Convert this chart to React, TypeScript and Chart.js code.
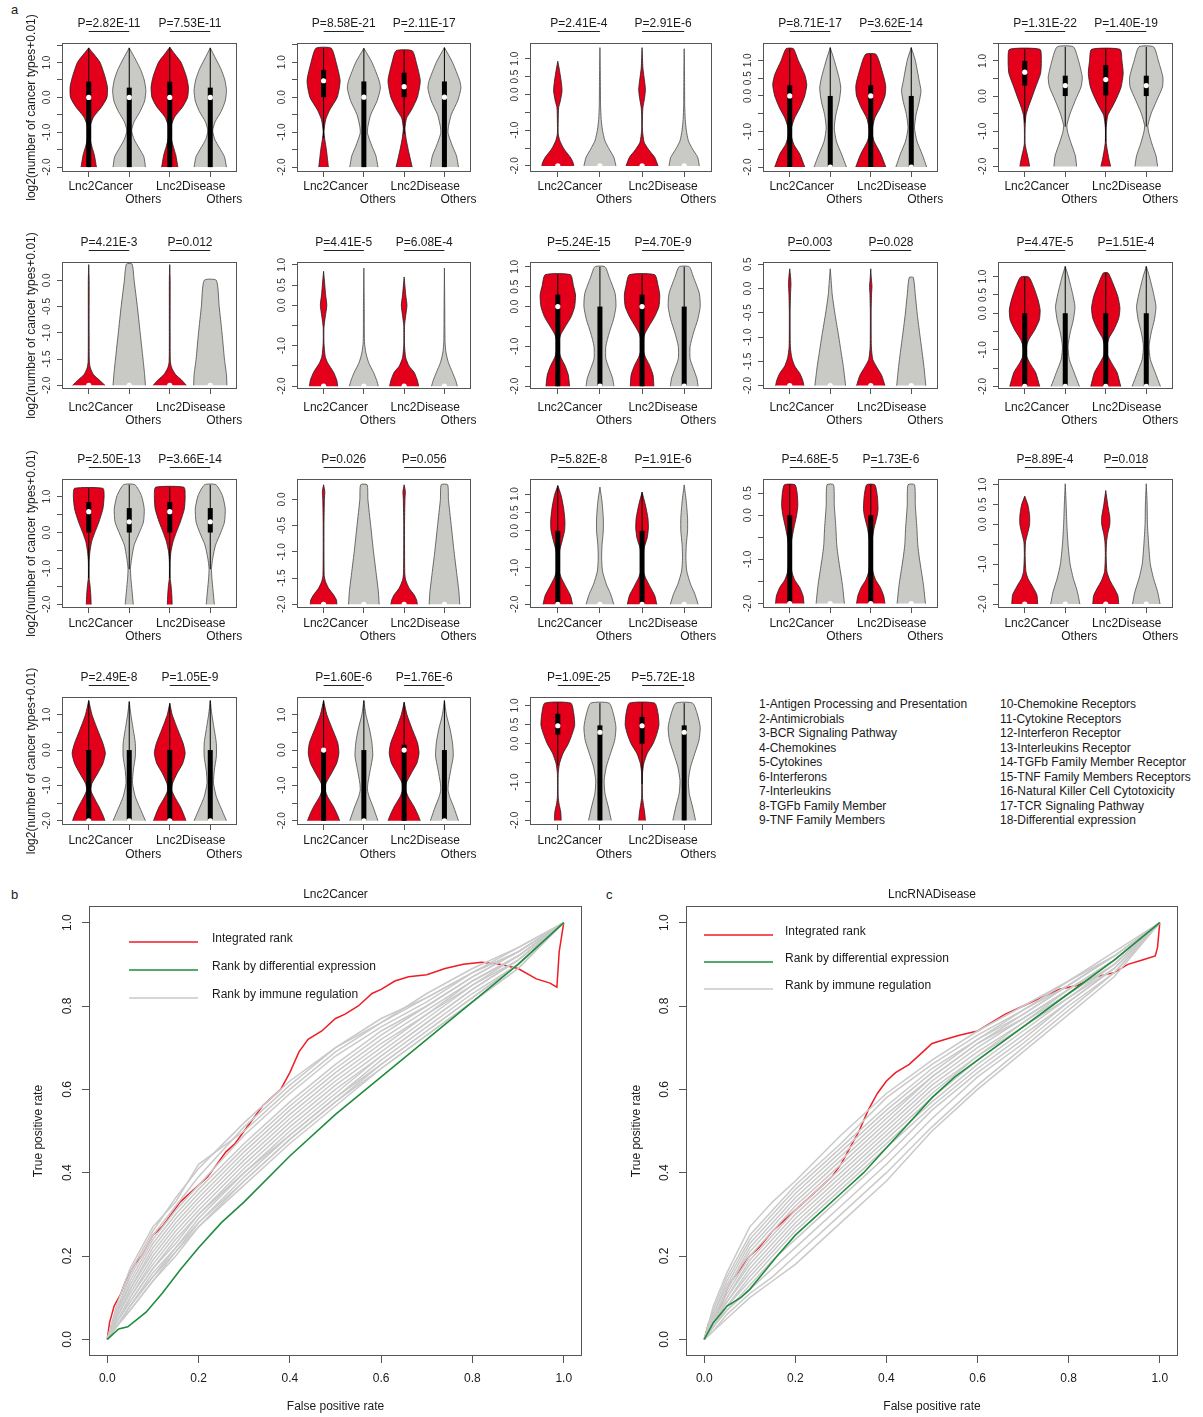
import React, { useEffect, useRef } from 'react';
import Chart from 'chart.js/auto';

const FONT = '"Liberation Sans", Arial, Helvetica, sans-serif';
const RED = '#e4001b';
const GREY_FILL = '#c9c9c5';
const AXIS = '#555555';
const TEXT = '#1a1a1a';
const ROC_RED = '#ee1c25';
const ROC_GREEN = '#1e8c3c';
const ROC_GREY = '#c9c9c9';

// ---------------- panel a : violin data ----------------
const groupLabels = ['Lnc2Cancer', 'Others', 'Lnc2Disease', 'Others'];

const pValues = [
  ['P=2.82E-11', 'P=7.53E-11'], ['P=8.58E-21', 'P=2.11E-17'], ['P=2.41E-4', 'P=2.91E-6'], ['P=8.71E-17', 'P=3.62E-14'], ['P=1.31E-22', 'P=1.40E-19'],
  ['P=4.21E-3', 'P=0.012'], ['P=4.41E-5', 'P=6.08E-4'], ['P=5.24E-15', 'P=4.70E-9'], ['P=0.003', 'P=0.028'], ['P=4.47E-5', 'P=1.51E-4'],
  ['P=2.50E-13', 'P=3.66E-14'], ['P=0.026', 'P=0.056'], ['P=5.82E-8', 'P=1.91E-6'], ['P=4.68E-5', 'P=1.73E-6'], ['P=8.89E-4', 'P=0.018'],
  ['P=2.49E-8', 'P=1.05E-9'], ['P=1.60E-6', 'P=1.76E-6'], ['P=1.09E-25', 'P=5.72E-18'],
];

const yRanges = [
  [-2.14, 1.56], [-2.14, 1.55], [-2.17, 1.44], [-2.14, 1.49], [-2.16, 1.51],
  [-2.07, 0.35], [-2.07, 1.07], [-2.07, 1.12], [-2.07, 0.55], [-2.07, 1.4],
  [-2.1, 1.49], [-2.07, 0.39], [-2.1, 1.41], [-2.1, 0.82], [-2.1, 1.14],
  [-2.12, 1.5], [-2.12, 1.5], [-2.12, 1.22],
];

const T15 = [-2, -1.5, -1, -0.5, 0, 0.5, 1, 1.5];
const T10 = [-2, -1.5, -1, -0.5, 0, 0.5, 1];
const T05 = [-2, -1.5, -1, -0.5, 0, 0.5];
const T00 = [-2, -1.5, -1, -0.5, 0];
const yTicks = [T15, T15, T10, T10, T15, T00, T10, T10, T05, T10, T10, T00, T10, T05, T10, T10, T10, T10];

const L_A = [-2, -1, 0, 1];
const L_B = [-2, -1, 0, 0.5, 1];
const yLabeled = [L_A, L_A, L_B, L_B, L_A, T00, L_B, L_B, T05, L_B, L_A, T00, L_B, [-2, -1, 0, 0.5], L_B, L_A, L_A, L_B];

// each violin: [value, half-width] pairs from bottom to top
const shapes01 = [
  [[-2, 0.19], [-1.66, 0.14], [-1.42, 0.08], [-1.23, 0.04], [-1.0, 0.02], [-0.8, 0.04], [-0.56, 0.12], [-0.27, 0.32], [0, 0.45], [0.3, 0.46], [0.6, 0.4], [1.0, 0.28], [1.25, 0.12], [1.42, 0]],
  [[-2, 0.4], [-1.7, 0.36], [-1.45, 0.24], [-1.2, 0.12], [-0.95, 0.06], [-0.7, 0.12], [-0.4, 0.27], [-0.1, 0.38], [0.2, 0.41], [0.5, 0.37], [0.8, 0.28], [1.1, 0.15], [1.42, 0]],
  [[-2, 0.2], [-1.66, 0.15], [-1.42, 0.09], [-1.2, 0.04], [-1.0, 0.02], [-0.8, 0.04], [-0.56, 0.12], [-0.27, 0.32], [0, 0.44], [0.3, 0.46], [0.6, 0.41], [1.0, 0.28], [1.25, 0.12], [1.44, 0]],
  [[-2, 0.4], [-1.7, 0.35], [-1.45, 0.23], [-1.2, 0.11], [-0.95, 0.06], [-0.7, 0.12], [-0.4, 0.27], [-0.1, 0.37], [0.2, 0.4], [0.5, 0.36], [0.8, 0.27], [1.1, 0.14], [1.42, 0]],
];
const shapes02 = [
  [[-2, 0.12], [-1.5, 0.07], [-1.21, 0.03], [-0.98, 0.01], [-0.65, 0.05], [-0.37, 0.15], [0, 0.34], [0.47, 0.41], [1.0, 0.31], [1.4, 0.19]],
  [[-2, 0.35], [-1.68, 0.3], [-1.4, 0.2], [-1.03, 0.09], [-0.84, 0.1], [-0.5, 0.17], [-0.1, 0.33], [0.26, 0.41], [0.47, 0.38], [1.0, 0.2], [1.4, 0]],
  [[-2, 0.2], [-1.6, 0.12], [-1.2, 0.05], [-0.9, 0.02], [-0.6, 0.06], [-0.37, 0.18], [0, 0.33], [0.47, 0.4], [1.0, 0.3], [1.33, 0.2]],
  [[-2, 0.35], [-1.68, 0.3], [-1.4, 0.2], [-1.03, 0.09], [-0.84, 0.1], [-0.5, 0.17], [-0.1, 0.33], [0.26, 0.41], [0.47, 0.38], [1.0, 0.2], [1.42, 0]],
];
const shapes03 = [
  [[-2, 0.38], [-1.9, 0.36], [-1.76, 0.3], [-1.53, 0.15], [-1.3, 0.05], [-1.1, 0.01], [-0.74, 0.01], [-0.37, 0.02], [-0.18, 0.06], [0.1, 0.1], [0.37, 0.08], [0.74, 0.03], [0.93, 0]],
  [[-2, 0.38], [-1.76, 0.33], [-1.53, 0.22], [-1.3, 0.12], [-1.0, 0.06], [-0.7, 0.03], [-0.3, 0.015], [0.5, 0.01], [1.31, 0]],
  [[-2, 0.38], [-1.76, 0.3], [-1.55, 0.16], [-1.34, 0.05], [-1.0, 0.01], [-0.6, 0.01], [-0.37, 0.02], [-0.09, 0.06], [0.14, 0.08], [0.37, 0.06], [0.74, 0.02], [1.31, 0]],
  [[-2, 0.36], [-1.76, 0.32], [-1.53, 0.2], [-1.3, 0.1], [-1.0, 0.05], [-0.7, 0.025], [-0.3, 0.012], [0.5, 0.008], [1.28, 0]],
];
const shapes04 = [
  [[-2, 0.37], [-1.64, 0.25], [-1.36, 0.1], [-1.08, 0.03], [-0.9, 0.04], [-0.62, 0.12], [-0.34, 0.25], [0, 0.37], [0.32, 0.42], [0.6, 0.37], [1.0, 0.21], [1.33, 0.09]],
  [[-2, 0.4], [-1.64, 0.28], [-1.27, 0.15], [-0.9, 0.1], [-0.52, 0.14], [-0.15, 0.22], [0.22, 0.26], [0.5, 0.22], [1.0, 0.1], [1.36, 0]],
  [[-2, 0.37], [-1.64, 0.25], [-1.27, 0.08], [-1.0, 0.03], [-0.62, 0.1], [-0.34, 0.23], [0, 0.35], [0.27, 0.37], [0.5, 0.33], [1.0, 0.2], [1.18, 0.12]],
  [[-2, 0.38], [-1.64, 0.27], [-1.27, 0.14], [-0.9, 0.08], [-0.52, 0.12], [-0.15, 0.2], [0.15, 0.24], [0.4, 0.2], [1.0, 0.1], [1.36, 0]],
];
const shapes05 = [
  [[-2, 0.12], [-1.8, 0.09], [-1.55, 0.04], [-1.36, 0.01], [-0.89, 0.01], [-0.55, 0.03], [-0.31, 0.09], [-0.03, 0.18], [0.26, 0.27], [0.64, 0.39], [1.0, 0.41], [1.33, 0.375]],
  [[-2, 0.28], [-1.7, 0.25], [-1.36, 0.15], [-1.03, 0.06], [-0.84, 0.04], [-0.5, 0.12], [-0.12, 0.25], [0.26, 0.39], [0.54, 0.42], [1.0, 0.33], [1.4, 0.2]],
  [[-2, 0.12], [-1.8, 0.08], [-1.55, 0.04], [-1.3, 0.01], [-0.9, 0.01], [-0.55, 0.05], [-0.31, 0.16], [-0.03, 0.28], [0.26, 0.38], [0.64, 0.43], [1.0, 0.4], [1.33, 0.35]],
  [[-2, 0.28], [-1.7, 0.24], [-1.36, 0.14], [-1.03, 0.06], [-0.84, 0.04], [-0.5, 0.12], [-0.12, 0.26], [0.26, 0.4], [0.54, 0.41], [1.0, 0.3], [1.4, 0.18]],
];
const shapes06 = [
  [[-2, 0.4], [-1.89, 0.25], [-1.8, 0.12], [-1.67, 0.04], [-1.55, 0.015], [-1.0, 0.01], [0, 0.01], [0.3, 0]],
  [[-2, 0.4], [-1.8, 0.38], [-1.5, 0.34], [-1.0, 0.27], [-0.5, 0.2], [0, 0.12], [0.31, 0.07]],
  [[-2, 0.41], [-1.89, 0.28], [-1.8, 0.15], [-1.67, 0.05], [-1.55, 0.015], [-1.0, 0.01], [0, 0.01], [0.3, 0]],
  [[-2, 0.41], [-1.8, 0.4], [-1.5, 0.35], [-1.0, 0.29], [-0.5, 0.22], [0, 0.15]],
];
const shapes07 = [
  [[-2, 0.35], [-1.86, 0.33], [-1.66, 0.25], [-1.42, 0.1], [-1.26, 0.04], [-0.94, 0.01], [-0.54, 0.01], [-0.3, 0.04], [0, 0.08], [0.26, 0.05], [0.5, 0.03], [0.84, 0]],
  [[-2, 0.36], [-1.86, 0.32], [-1.66, 0.24], [-1.42, 0.12], [-1.18, 0.05], [-0.9, 0.015], [0, 0.01], [0.92, 0]],
  [[-2, 0.36], [-1.86, 0.33], [-1.66, 0.25], [-1.5, 0.12], [-1.3, 0.04], [-1.0, 0.01], [-0.5, 0.01], [-0.25, 0.04], [0, 0.07], [0.25, 0.04], [0.7, 0]],
  [[-2, 0.32], [-1.86, 0.28], [-1.66, 0.2], [-1.42, 0.1], [-1.18, 0.04], [-0.9, 0.015], [0, 0.008], [0.92, 0]],
];
const shapes08 = [
  [[-2, 0.28], [-1.72, 0.25], [-1.48, 0.17], [-1.27, 0.07], [-1.07, 0.02], [-0.9, 0.02], [-0.7, 0.07], [-0.5, 0.18], [-0.25, 0.32], [0, 0.4], [0.29, 0.42], [0.53, 0.37], [0.8, 0.3]],
  [[-2, 0.33], [-1.8, 0.3], [-1.56, 0.22], [-1.31, 0.14], [-1.0, 0.14], [-0.66, 0.22], [-0.33, 0.32], [0, 0.38], [0.33, 0.36], [0.74, 0.22], [1.0, 0.12]],
  [[-2, 0.28], [-1.72, 0.26], [-1.48, 0.18], [-1.27, 0.08], [-1.07, 0.02], [-0.9, 0.02], [-0.7, 0.06], [-0.5, 0.16], [-0.25, 0.3], [0, 0.4], [0.29, 0.42], [0.53, 0.38], [0.8, 0.3]],
  [[-2, 0.33], [-1.8, 0.3], [-1.56, 0.22], [-1.31, 0.14], [-1.0, 0.14], [-0.66, 0.22], [-0.33, 0.32], [0, 0.38], [0.33, 0.36], [0.74, 0.22], [1.0, 0.12]],
];
const shapes09 = [
  [[-2, 0.35], [-1.89, 0.32], [-1.75, 0.25], [-1.59, 0.12], [-1.42, 0.05], [-1.2, 0.015], [-0.5, 0.01], [-0.1, 0.02], [0.1, 0.03], [0.25, 0.02], [0.41, 0]],
  [[-2, 0.38], [-1.59, 0.32], [-1.32, 0.27], [-0.94, 0.2], [-0.54, 0.12], [-0.13, 0.05], [0.2, 0.02], [0.41, 0]],
  [[-2, 0.35], [-1.79, 0.27], [-1.62, 0.15], [-1.46, 0.05], [-1.2, 0.015], [-0.5, 0.01], [-0.1, 0.02], [0.05, 0.03], [0.2, 0.015], [0.41, 0]],
  [[-2, 0.36], [-1.59, 0.31], [-1.32, 0.27], [-0.94, 0.21], [-0.54, 0.15], [-0.13, 0.1], [0.23, 0.05]],
];
const shapes10 = [
  [[-2, 0.37], [-1.62, 0.27], [-1.35, 0.12], [-1.13, 0.03], [-0.95, 0.03], [-0.72, 0.1], [-0.45, 0.25], [-0.18, 0.36], [0.09, 0.38], [0.36, 0.33], [0.72, 0.22], [0.99, 0.1]],
  [[-2, 0.35], [-1.62, 0.22], [-1.26, 0.1], [-0.9, 0.07], [-0.54, 0.12], [-0.18, 0.2], [0.18, 0.24], [0.54, 0.18], [0.99, 0.08], [1.28, 0]],
  [[-2, 0.37], [-1.62, 0.28], [-1.35, 0.14], [-1.13, 0.04], [-0.9, 0.03], [-0.68, 0.08], [-0.45, 0.2], [-0.14, 0.32], [0.14, 0.35], [0.45, 0.3], [0.81, 0.18], [1.1, 0.06]],
  [[-2, 0.35], [-1.62, 0.22], [-1.26, 0.1], [-0.9, 0.07], [-0.54, 0.12], [-0.18, 0.2], [0.18, 0.24], [0.54, 0.18], [0.99, 0.08], [1.28, 0]],
];
const shapes11 = [
  [[-2, 0.06], [-1.72, 0.05], [-1.45, 0.03], [-1.27, 0.01], [-0.8, 0.01], [-0.53, 0.03], [-0.26, 0.07], [0, 0.15], [0.29, 0.25], [0.66, 0.35], [1.03, 0.38], [1.23, 0.35]],
  [[-2, 0.1], [-1.63, 0.07], [-1.27, 0.04], [-1.0, 0.03], [-0.72, 0.06], [-0.35, 0.12], [0, 0.25], [0.29, 0.35], [0.66, 0.37], [1.03, 0.3], [1.33, 0.14]],
  [[-2, 0.06], [-1.72, 0.05], [-1.45, 0.03], [-1.27, 0.01], [-0.8, 0.01], [-0.53, 0.03], [-0.26, 0.08], [0, 0.16], [0.29, 0.26], [0.66, 0.36], [1.03, 0.38], [1.26, 0.35]],
  [[-2, 0.1], [-1.63, 0.07], [-1.27, 0.04], [-1.0, 0.03], [-0.72, 0.06], [-0.35, 0.13], [0, 0.26], [0.29, 0.35], [0.66, 0.37], [1.03, 0.3], [1.33, 0.14]],
];
const shapes12 = [
  [[-2, 0.33], [-1.92, 0.32], [-1.82, 0.25], [-1.7, 0.13], [-1.57, 0.05], [-1.45, 0.015], [-0.5, 0.01], [0, 0.02], [0.15, 0.03], [0.28, 0]],
  [[-2, 0.38], [-1.76, 0.36], [-1.5, 0.32], [-1.0, 0.24], [-0.5, 0.17], [0, 0.1], [0.28, 0.08]],
  [[-2, 0.33], [-1.92, 0.31], [-1.82, 0.25], [-1.7, 0.13], [-1.54, 0.04], [-1.4, 0.015], [-0.5, 0.01], [0, 0.02], [0.15, 0.03], [0.28, 0]],
  [[-2, 0.38], [-1.76, 0.36], [-1.5, 0.32], [-1.0, 0.24], [-0.5, 0.17], [0, 0.1], [0.28, 0.08]],
];
const shapes13 = [
  [[-2, 0.35], [-1.76, 0.3], [-1.54, 0.2], [-1.27, 0.08], [-1.09, 0.03], [-0.82, 0.02], [-0.55, 0.04], [-0.29, 0.1], [0, 0.16], [0.25, 0.17], [0.6, 0.14], [0.96, 0.08], [1.23, 0]],
  [[-2, 0.33], [-1.71, 0.25], [-1.45, 0.15], [-1.09, 0.06], [-0.73, 0.04], [-0.38, 0.05], [0, 0.08], [0.34, 0.08], [0.79, 0.05], [1.19, 0]],
  [[-2, 0.35], [-1.76, 0.3], [-1.54, 0.2], [-1.27, 0.08], [-1.09, 0.03], [-0.73, 0.02], [-0.46, 0.05], [-0.2, 0.12], [0.07, 0.15], [0.34, 0.14], [0.7, 0.08], [1.05, 0]],
  [[-2, 0.33], [-1.71, 0.25], [-1.45, 0.15], [-1.09, 0.06], [-0.73, 0.04], [-0.38, 0.05], [0, 0.08], [0.34, 0.08], [0.79, 0.05], [1.25, 0]],
];
const shapes14 = [
  [[-2, 0.35], [-1.83, 0.33], [-1.64, 0.25], [-1.46, 0.12], [-1.27, 0.05], [-0.97, 0.02], [-0.6, 0.04], [-0.3, 0.1], [0, 0.17], [0.22, 0.2], [0.52, 0.18], [0.69, 0.13]],
  [[-2, 0.35], [-1.57, 0.3], [-1.27, 0.25], [-0.97, 0.2], [-0.67, 0.16], [-0.3, 0.14], [0.22, 0.1], [0.69, 0.08]],
  [[-2, 0.35], [-1.83, 0.32], [-1.64, 0.24], [-1.46, 0.12], [-1.27, 0.05], [-0.97, 0.02], [-0.6, 0.03], [-0.3, 0.08], [0, 0.16], [0.15, 0.18], [0.45, 0.16], [0.69, 0.1]],
  [[-2, 0.35], [-1.57, 0.3], [-1.27, 0.25], [-0.97, 0.2], [-0.67, 0.16], [-0.3, 0.14], [0.22, 0.1], [0.69, 0.08]],
];
const shapes15 = [
  [[-2, 0.32], [-1.77, 0.3], [-1.57, 0.2], [-1.36, 0.08], [-1.19, 0.03], [-0.78, 0.01], [-0.44, 0.02], [-0.23, 0.07], [0, 0.12], [0.22, 0.12], [0.48, 0.08], [0.71, 0]],
  [[-2, 0.36], [-1.69, 0.3], [-1.36, 0.2], [-1.0, 0.12], [-0.52, 0.07], [0, 0.04], [0.56, 0.02], [1.02, 0]],
  [[-2, 0.32], [-1.79, 0.3], [-1.62, 0.22], [-1.4, 0.1], [-1.19, 0.03], [-0.78, 0.01], [-0.44, 0.02], [-0.23, 0.05], [0, 0.1], [0.18, 0.1], [0.48, 0.05], [0.85, 0]],
  [[-2, 0.34], [-1.69, 0.28], [-1.36, 0.18], [-1.0, 0.1], [-0.52, 0.06], [0, 0.03], [0.56, 0.02], [1.02, 0]],
];
const shapes16 = [
  [[-2, 0.4], [-1.84, 0.35], [-1.6, 0.25], [-1.32, 0.12], [-1.13, 0.05], [-0.94, 0.08], [-0.66, 0.22], [-0.38, 0.35], [-0.09, 0.41], [0.19, 0.35], [0.57, 0.22], [1.0, 0.08], [1.4, 0]],
  [[-2, 0.4], [-1.6, 0.25], [-1.32, 0.15], [-0.94, 0.08], [-0.57, 0.1], [-0.19, 0.15], [0.19, 0.15], [0.57, 0.1], [1.0, 0.04], [1.37, 0]],
  [[-2, 0.4], [-1.84, 0.35], [-1.6, 0.26], [-1.32, 0.12], [-1.13, 0.05], [-0.94, 0.07], [-0.66, 0.18], [-0.38, 0.32], [-0.09, 0.38], [0.19, 0.33], [0.57, 0.2], [1.0, 0.06], [1.32, 0]],
  [[-2, 0.4], [-1.6, 0.25], [-1.32, 0.15], [-0.94, 0.08], [-0.57, 0.1], [-0.19, 0.15], [0.19, 0.15], [0.57, 0.1], [1.0, 0.04], [1.4, 0]],
];
const shapes17 = [
  [[-2, 0.4], [-1.85, 0.35], [-1.61, 0.25], [-1.32, 0.1], [-1.13, 0.04], [-0.94, 0.06], [-0.65, 0.2], [-0.36, 0.33], [-0.08, 0.38], [0.21, 0.35], [0.59, 0.22], [1.0, 0.08], [1.4, 0]],
  [[-2, 0.35], [-1.61, 0.23], [-1.32, 0.13], [-1.13, 0.09], [-0.94, 0.1], [-0.55, 0.16], [-0.17, 0.22], [0.21, 0.2], [0.59, 0.14], [1.0, 0.05], [1.4, 0]],
  [[-2, 0.4], [-1.85, 0.35], [-1.61, 0.25], [-1.32, 0.1], [-1.13, 0.04], [-0.94, 0.05], [-0.65, 0.18], [-0.36, 0.32], [-0.08, 0.37], [0.21, 0.33], [0.59, 0.2], [1.0, 0.07], [1.35, 0]],
  [[-2, 0.35], [-1.61, 0.23], [-1.32, 0.13], [-1.13, 0.09], [-0.94, 0.1], [-0.55, 0.16], [-0.17, 0.22], [0.21, 0.2], [0.59, 0.14], [1.0, 0.05], [1.4, 0]],
];
const shapes18 = [
  [[-2, 0.08], [-1.78, 0.07], [-1.57, 0.03], [-1.39, 0.01], [-0.78, 0.01], [-0.52, 0.04], [-0.26, 0.12], [0, 0.25], [0.22, 0.33], [0.48, 0.4], [0.78, 0.38], [1.06, 0.31]],
  [[-2, 0.27], [-1.65, 0.2], [-1.3, 0.12], [-0.96, 0.1], [-0.61, 0.15], [-0.26, 0.25], [0.09, 0.35], [0.43, 0.38], [0.78, 0.32], [1.06, 0.22]],
  [[-2, 0.08], [-1.78, 0.06], [-1.57, 0.03], [-1.39, 0.01], [-0.78, 0.01], [-0.52, 0.04], [-0.26, 0.12], [0, 0.26], [0.22, 0.34], [0.48, 0.4], [0.78, 0.38], [1.06, 0.3]],
  [[-2, 0.27], [-1.65, 0.2], [-1.3, 0.12], [-0.96, 0.1], [-0.61, 0.15], [-0.26, 0.25], [0.09, 0.35], [0.43, 0.38], [0.78, 0.31], [1.06, 0.2]],
];

// each violin: [whisker low, Q1, median, Q3, whisker high]
const Z = [-2, -2, -2, -2, -2];
const stats01 = [[-2, -2, 0, 0.45, 1.42], [-2, -2, 0, 0.28, 1.42], [-2, -2, 0, 0.45, 1.44], [-2, -2, 0, 0.28, 1.42]];
const stats02 = [[-1.17, 0, 0.47, 0.78, 1.4], [-2, -2, 0, 0.45, 1.4], [-1.05, 0, 0.3, 0.7, 1.33], [-2, -2, 0, 0.45, 1.42]];
const stats03 = [Z, Z, Z, Z];
const stats04 = [[-2, -2, 0, 0.3, 1.33], [-2, -2, -2, 0, 1.36], [-2, -2, 0, 0.3, 1.18], [-2, -2, -2, 0, 1.36]];
const stats05 = [[-0.75, 0.3, 0.68, 1.0, 1.33], [-0.87, 0, 0.3, 0.58, 1.4], [-1.3, 0.02, 0.47, 0.88, 1.33], [-0.87, 0, 0.3, 0.58, 1.4]];
const stats06 = [Z, Z, Z, Z];
const stats07 = [Z, Z, Z, Z];
const stats08 = [[-2, -2, 0, 0.3, 0.8], [-2, -2, -2, 0, 1.0], [-2, -2, 0, 0.3, 0.8], [-2, -2, -2, 0, 1.0]];
const stats09 = [Z, Z, Z, Z];
const stats10 = [[-2, -2, -2, 0, 0.99], [-2, -2, -2, 0, 1.28], [-2, -2, -2, 0, 1.1], [-2, -2, -2, 0, 1.28]];
const stats11 = [[-1.27, 0, 0.58, 0.85, 1.23], [-1.02, 0, 0.3, 0.68, 1.33], [-1.27, 0, 0.58, 0.85, 1.26], [-1.02, 0, 0.3, 0.68, 1.33]];
const stats12 = [Z, Z, Z, Z];
const stats13 = [[-2, -2, -2, 0, 1.23], Z, [-2, -2, -2, 0, 1.05], Z];
const stats14 = [[-2, -2, -2, 0, 0.69], Z, [-2, -2, -2, 0, 0.69], Z];
const stats15 = [Z, Z, Z, Z];
const stats16 = [[-2, -2, -2, 0, 1.4], [-2, -2, -2, 0, 1.37], [-2, -2, -2, 0, 1.32], [-2, -2, -2, 0, 1.4]];
const stats17 = [[-2, -2, 0, 0.02, 1.4], [-2, -2, -2, 0, 1.4], [-2, -2, 0, 0.15, 1.35], [-2, -2, -2, 0, 1.4]];
const stats18 = [[-0.57, 0.24, 0.47, 0.78, 1.06], [-2, -2, 0.3, 0.48, 1.06], [-1.05, 0, 0.47, 0.7, 1.06], [-2, -2, 0.3, 0.48, 1.06]];

const panelShapes = [shapes01, shapes02, shapes03, shapes04, shapes05, shapes06, shapes07, shapes08, shapes09, shapes10, shapes11, shapes12, shapes13, shapes14, shapes15, shapes16, shapes17, shapes18];
const panelStats = [stats01, stats02, stats03, stats04, stats05, stats06, stats07, stats08, stats09, stats10, stats11, stats12, stats13, stats14, stats15, stats16, stats17, stats18];

const legendLeft = ['1-Antigen Processing and Presentation', '2-Antimicrobials', '3-BCR Signaling Pathway', '4-Chemokines', '5-Cytokines', '6-Interferons', '7-Interleukins', '8-TGFb Family Member', '9-TNF Family Members'];
const legendRight = ['10-Chemokine Receptors', '11-Cytokine Receptors', '12-Interferon Receptor', '13-Interleukins Receptor', '14-TGFb Family Member Receptor', '15-TNF Family Members Receptors', '16-Natural Killer Cell Cytotoxicity', '17-TCR Signaling Pathway', '18-Differential expression'];

// ---------------- panels b, c : ROC data ----------------
const rocTicks = [0, 0.2, 0.4, 0.6, 0.8, 1.0];
const rocLegend = ['Integrated rank', 'Rank by differential expression', 'Rank by immune regulation'];
const rocXGrid = [0, 0.02, 0.05, 0.1, 0.15, 0.2, 0.3, 0.4, 0.5, 0.6, 0.7, 0.8, 0.9, 1];

const integratedCancer = [
  [0, 0], [0.005, 0.04], [0.01, 0.06], [0.015, 0.08], [0.02, 0.09], [0.03, 0.11], [0.04, 0.14], [0.05, 0.16], [0.06, 0.18], [0.075, 0.2],
  [0.09, 0.23], [0.1, 0.25], [0.12, 0.27], [0.14, 0.3], [0.16, 0.33], [0.18, 0.35], [0.2, 0.37], [0.22, 0.39], [0.24, 0.42], [0.26, 0.45],
  [0.28, 0.47], [0.3, 0.5], [0.32, 0.53], [0.34, 0.56], [0.36, 0.58], [0.38, 0.6], [0.4, 0.64], [0.42, 0.69], [0.44, 0.72], [0.47, 0.74],
  [0.5, 0.77], [0.52, 0.78], [0.55, 0.8], [0.58, 0.83], [0.6, 0.84], [0.63, 0.86], [0.66, 0.87], [0.7, 0.875], [0.74, 0.89], [0.78, 0.9],
  [0.82, 0.905], [0.86, 0.9], [0.9, 0.89], [0.94, 0.865], [0.97, 0.855], [0.985, 0.845], [0.99, 0.93], [1, 1],
];
const diffExprCancer = [
  [0, 0], [0.025, 0.025], [0.045, 0.03], [0.085, 0.065], [0.12, 0.11], [0.16, 0.167], [0.2, 0.22], [0.25, 0.28], [0.3, 0.33],
  [0.4, 0.44], [0.5, 0.54], [0.6, 0.63], [0.7, 0.72], [0.8, 0.81], [0.9, 0.9], [1, 1],
];
const immuneCancer = [
  [0, 0.08, 0.17, 0.27, 0.33, 0.42, 0.5, 0.6, 0.69, 0.76, 0.83, 0.89, 0.94, 1],
  [0, 0.07, 0.15, 0.25, 0.32, 0.39, 0.51, 0.61, 0.7, 0.77, 0.82, 0.88, 0.94, 1],
  [0, 0.06, 0.14, 0.24, 0.31, 0.37, 0.49, 0.59, 0.68, 0.75, 0.81, 0.88, 0.93, 1],
  [0, 0.06, 0.13, 0.23, 0.3, 0.36, 0.47, 0.57, 0.66, 0.74, 0.8, 0.87, 0.93, 1],
  [0, 0.05, 0.12, 0.22, 0.29, 0.35, 0.46, 0.56, 0.65, 0.73, 0.8, 0.87, 0.93, 1],
  [0, 0.05, 0.12, 0.21, 0.28, 0.34, 0.45, 0.55, 0.64, 0.72, 0.79, 0.86, 0.92, 1],
  [0, 0.05, 0.11, 0.2, 0.27, 0.33, 0.44, 0.54, 0.63, 0.71, 0.78, 0.86, 0.92, 1],
  [0, 0.04, 0.1, 0.19, 0.26, 0.32, 0.43, 0.53, 0.62, 0.7, 0.78, 0.85, 0.92, 1],
  [0, 0.04, 0.1, 0.18, 0.25, 0.31, 0.42, 0.52, 0.61, 0.69, 0.77, 0.85, 0.91, 1],
  [0, 0.04, 0.09, 0.17, 0.24, 0.3, 0.41, 0.51, 0.6, 0.68, 0.76, 0.84, 0.91, 1],
  [0, 0.04, 0.09, 0.17, 0.23, 0.3, 0.4, 0.5, 0.59, 0.68, 0.76, 0.84, 0.91, 1],
  [0, 0.03, 0.08, 0.16, 0.22, 0.29, 0.4, 0.49, 0.58, 0.67, 0.75, 0.83, 0.9, 1],
  [0, 0.03, 0.08, 0.15, 0.22, 0.28, 0.39, 0.49, 0.58, 0.66, 0.74, 0.82, 0.9, 1],
  [0, 0.03, 0.08, 0.15, 0.21, 0.28, 0.38, 0.48, 0.57, 0.66, 0.74, 0.82, 0.9, 1],
  [0, 0.03, 0.07, 0.14, 0.21, 0.27, 0.38, 0.48, 0.57, 0.65, 0.73, 0.81, 0.89, 1],
  [0, 0.03, 0.07, 0.14, 0.2, 0.27, 0.37, 0.47, 0.56, 0.65, 0.73, 0.81, 0.89, 1],
  [0, 0.06, 0.16, 0.26, 0.34, 0.41, 0.52, 0.62, 0.7, 0.76, 0.82, 0.88, 0.93, 1],
];

const integratedDisease = [
  [0, 0], [0.005, 0.02], [0.01, 0.04], [0.02, 0.05], [0.03, 0.07], [0.04, 0.09], [0.05, 0.12], [0.06, 0.14], [0.08, 0.17], [0.1, 0.2],
  [0.12, 0.22], [0.15, 0.26], [0.18, 0.29], [0.2, 0.31], [0.22, 0.33], [0.25, 0.36], [0.28, 0.39], [0.3, 0.42], [0.32, 0.46], [0.34, 0.5],
  [0.36, 0.55], [0.38, 0.59], [0.4, 0.62], [0.42, 0.64], [0.45, 0.66], [0.48, 0.69], [0.5, 0.71], [0.53, 0.72], [0.56, 0.73], [0.6, 0.74],
  [0.63, 0.76], [0.66, 0.78], [0.7, 0.8], [0.74, 0.82], [0.78, 0.84], [0.82, 0.85], [0.86, 0.87], [0.9, 0.88], [0.93, 0.9], [0.96, 0.91],
  [0.99, 0.92], [0.995, 0.94], [1, 1],
];
const diffExprDisease = [
  [0, 0], [0.02, 0.04], [0.05, 0.08], [0.08, 0.1], [0.1, 0.12], [0.13, 0.16], [0.16, 0.2], [0.2, 0.25], [0.25, 0.3], [0.3, 0.35],
  [0.35, 0.4], [0.4, 0.46], [0.45, 0.52], [0.5, 0.58], [0.55, 0.63], [0.6, 0.67], [0.7, 0.75], [0.8, 0.83], [0.9, 0.91], [1, 1],
];
const immuneDisease = [
  [0, 0.08, 0.16, 0.27, 0.33, 0.38, 0.49, 0.59, 0.67, 0.74, 0.8, 0.86, 0.93, 1],
  [0, 0.07, 0.15, 0.25, 0.31, 0.37, 0.47, 0.58, 0.66, 0.73, 0.79, 0.86, 0.92, 1],
  [0, 0.06, 0.14, 0.24, 0.3, 0.36, 0.46, 0.56, 0.65, 0.72, 0.79, 0.85, 0.92, 1],
  [0, 0.06, 0.13, 0.23, 0.29, 0.35, 0.45, 0.55, 0.64, 0.72, 0.78, 0.85, 0.92, 1],
  [0, 0.05, 0.12, 0.22, 0.28, 0.34, 0.44, 0.54, 0.63, 0.71, 0.78, 0.85, 0.92, 1],
  [0, 0.05, 0.12, 0.21, 0.27, 0.33, 0.43, 0.53, 0.63, 0.71, 0.77, 0.84, 0.91, 1],
  [0, 0.05, 0.11, 0.2, 0.26, 0.32, 0.42, 0.52, 0.62, 0.7, 0.77, 0.84, 0.91, 1],
  [0, 0.04, 0.1, 0.19, 0.25, 0.31, 0.41, 0.51, 0.61, 0.69, 0.76, 0.84, 0.91, 1],
  [0, 0.04, 0.1, 0.18, 0.24, 0.3, 0.4, 0.5, 0.6, 0.68, 0.76, 0.83, 0.9, 1],
  [0, 0.04, 0.09, 0.17, 0.23, 0.29, 0.39, 0.49, 0.59, 0.68, 0.75, 0.83, 0.9, 1],
  [0, 0.04, 0.09, 0.16, 0.22, 0.28, 0.38, 0.48, 0.58, 0.67, 0.75, 0.82, 0.9, 1],
  [0, 0.03, 0.08, 0.15, 0.21, 0.27, 0.37, 0.47, 0.57, 0.66, 0.74, 0.82, 0.89, 1],
  [0, 0.03, 0.08, 0.14, 0.2, 0.26, 0.36, 0.46, 0.56, 0.65, 0.73, 0.81, 0.89, 1],
  [0, 0.03, 0.07, 0.13, 0.19, 0.24, 0.34, 0.44, 0.55, 0.64, 0.72, 0.81, 0.89, 1],
  [0, 0.03, 0.07, 0.12, 0.17, 0.22, 0.32, 0.42, 0.53, 0.63, 0.71, 0.8, 0.88, 1],
  [0, 0.02, 0.06, 0.11, 0.15, 0.2, 0.3, 0.4, 0.51, 0.61, 0.7, 0.79, 0.88, 1],
  [0, 0.02, 0.05, 0.1, 0.14, 0.18, 0.28, 0.38, 0.5, 0.6, 0.69, 0.78, 0.87, 1],
];

// ---------------- layout ----------------
const COL_BOX = [[62, 237], [297, 471], [530, 712], [763, 938], [998, 1173]];
const ROW_BOX = [[43, 172], [262, 389], [479, 608], [697, 825]];
const LABEL_DX = [12, 14, 21, 14];
const LABEL_DY = [[15, 28], [19, 32], [16, 29], [16, 30]];

const violinDecor = {
  id: 'violinDecor',
  afterDraw(chart: any, _args: any, opts: any) {
    const { ctx, chartArea: a, scales } = chart;
    const xs = scales.x;
    ctx.save();
    ctx.strokeStyle = AXIS;
    ctx.lineWidth = 1;
    ctx.strokeRect(a.left + 0.5, a.top + 0.5, a.right - a.left - 1, a.bottom - a.top - 1);
    ctx.fillStyle = TEXT;
    ctx.font = `12px ${FONT}`;
    ctx.textAlign = 'center';
    ctx.textBaseline = 'middle';
    [[1, 2], [3, 4]].forEach(([i, j], k) => {
      const x1 = xs.getPixelForValue(i);
      const x2 = xs.getPixelForValue(j);
      ctx.fillText(opts.pvals[k], (x1 + x2) / 2, a.top - 19.5);
      ctx.strokeStyle = '#222';
      ctx.beginPath();
      ctx.moveTo(x1, a.top - 11.5);
      ctx.lineTo(x2, a.top - 11.5);
      ctx.stroke();
    });
    groupLabels.forEach((lab, k) => {
      ctx.fillText(lab, xs.getPixelForValue(k + 1) + LABEL_DX[k], a.bottom + opts.dy[k % 2]);
    });
    ctx.restore();
  },
};

function ViolinPanel({ index }: { index: number }) {
  const ref = useRef<HTMLCanvasElement | null>(null);
  const col = index % 5;
  const row = Math.floor(index / 5);
  const [bl, br] = COL_BOX[col];
  const [bt, bb] = ROW_BOX[row];
  const left = bl - 62;
  const top = bt - 43;
  const width = br - left + 35;
  const height = bb - top + 45;

  useEffect(() => {
    const canvas = ref.current;
    if (!canvas) return;
    const datasets: any[] = [];
    const shapes: any[] = panelShapes[index];
    const stats: any[] = panelStats[index];
    shapes.forEach((pts: number[][], k: number) => {
      const p = k + 1;
      const isRed = k % 2 === 0;
      const outline = [
        ...pts.map(([y, w]) => ({ x: p + w, y })),
        ...pts.slice().reverse().map(([y, w]) => ({ x: p - w, y })),
      ];
      datasets.push({
        data: outline, fill: 'shape', backgroundColor: isRed ? RED : GREY_FILL,
        borderColor: isRed ? '#1e1e1e' : '#4a4a4a', borderWidth: 0.8, pointRadius: 0, tension: 0.2, order: 4,
      });
      const [lo, q1, med, q3, hi] = stats[k];
      if (hi > lo) {
        datasets.push({ data: [{ x: p, y: lo }, { x: p, y: hi }], borderColor: '#000', borderWidth: 1, pointRadius: 0, fill: false, order: 3 });
      }
      if (q3 > q1) {
        datasets.push({ data: [{ x: p, y: q1 }, { x: p, y: q3 }], borderColor: '#000', borderWidth: 5, borderCapStyle: 'butt', pointRadius: 0, fill: false, order: 2 });
      }
      datasets.push({ data: [{ x: p, y: med }], showLine: false, pointRadius: 2.6, pointBackgroundColor: '#fff', pointBorderColor: '#fff', pointBorderWidth: 0, fill: false, order: 1 });
    });

    const [ymin, ymax] = yRanges[index];
    const ticksY = yTicks[index];
    const labeled = yLabeled[index];
    const chart = new Chart(canvas, {
      type: 'line',
      data: { datasets },
      options: {
        responsive: false,
        animation: false,
        devicePixelRatio: 1,
        events: [],
        layout: { padding: { left: 0, top: 43, right: 35, bottom: 39 } },
        plugins: {
          legend: { display: false },
          tooltip: { enabled: false },
          violinDecor: { pvals: pValues[index], dy: LABEL_DY[row] },
        } as any,
        scales: {
          x: {
            type: 'linear', min: 0.34, max: 4.66,
            afterBuildTicks: (s: any) => { s.ticks = [1, 2, 3, 4].map((v) => ({ value: v })); },
            afterFit: (s: any) => { s.height = 6; },
            ticks: { display: false },
            grid: { drawOnChartArea: false, drawTicks: true, tickLength: 5, color: AXIS, lineWidth: 1 },
            border: { display: false },
          },
          y: {
            type: 'linear', min: ymin, max: ymax,
            afterBuildTicks: (s: any) => { s.ticks = ticksY.map((v) => ({ value: v })); },
            afterFit: (s: any) => { s.width = 62; },
            ticks: {
              autoSkip: false, minRotation: 90, maxRotation: 90, crossAlign: 'center', padding: 1,
              color: '#333', font: { family: FONT, size: 10 },
              callback: (v: any) => (labeled.includes(Number(v)) ? Number(v).toFixed(1) : ''),
            },
            grid: { drawOnChartArea: false, drawTicks: true, tickLength: 5, color: AXIS, lineWidth: 1 },
            border: { display: false },
            title: col === 0
              ? { display: true, text: 'log2(number of cancer types+0.01)', color: TEXT, font: { family: FONT, size: 12 }, padding: { top: 24, bottom: 0 } }
              : { display: false },
          },
        } as any,
      },
      plugins: [violinDecor],
    } as any);
    return () => chart.destroy();
  }, [index]);

  return <canvas ref={ref} width={width} height={height} style={{ position: 'absolute', left, top, width, height }} />;
}

const ROC_LAYOUT = [
  { left: 0, width: 600, boxL: 89, boxR: 582, titlePad: 31, title: 'Lnc2Cancer', dx: 40, textDx: 123, dy: [36, 64, 92] },
  { left: 600, width: 603, boxL: 686, boxR: 1178, titlePad: 29, title: 'LncRNADisease', dx: 18, textDx: 99, dy: [29, 56, 83] },
];

const rocDecor = {
  id: 'rocDecor',
  afterDraw(chart: any, _args: any, opts: any) {
    const { ctx, chartArea: a } = chart;
    ctx.save();
    ctx.strokeStyle = AXIS;
    ctx.lineWidth = 1;
    ctx.strokeRect(a.left + 0.5, a.top + 0.5, a.right - a.left - 1, a.bottom - a.top - 1);
    ctx.fillStyle = TEXT;
    ctx.font = `12px ${FONT}`;
    ctx.textAlign = 'center';
    ctx.textBaseline = 'middle';
    ctx.fillText(opts.title, (a.left + a.right) / 2, a.top - 11);
    ctx.textAlign = 'left';
    const colors = [ROC_RED, ROC_GREEN, ROC_GREY];
    rocLegend.forEach((label, i) => {
      const y = a.top + opts.dy[i];
      ctx.strokeStyle = colors[i];
      ctx.lineWidth = 1.6;
      ctx.beginPath();
      ctx.moveTo(a.left + opts.dx, y);
      ctx.lineTo(a.left + opts.dx + 69, y);
      ctx.stroke();
      ctx.fillText(label, a.left + opts.textDx, y - 3);
    });
    ctx.restore();
  },
};

function RocPanel({ which }: { which: number }) {
  const ref = useRef<HTMLCanvasElement | null>(null);
  const cfg = ROC_LAYOUT[which];
  const top = 880;
  const height = 537;
  useEffect(() => {
    const canvas = ref.current;
    if (!canvas) return;
    const red = which === 0 ? integratedCancer : integratedDisease;
    const green = which === 0 ? diffExprCancer : diffExprDisease;
    const greys = which === 0 ? immuneCancer : immuneDisease;
    const datasets: any[] = [
      { data: green.map(([x, y]) => ({ x, y })), borderColor: ROC_GREEN, borderWidth: 1.6, pointRadius: 0, fill: false, order: 0 },
      ...greys.map((arr) => ({ data: rocXGrid.map((x, i) => ({ x, y: arr[i] })), borderColor: ROC_GREY, borderWidth: 1.5, pointRadius: 0, fill: false, order: 1 })),
      { data: red.map(([x, y]) => ({ x, y })), borderColor: ROC_RED, borderWidth: 1.5, pointRadius: 0, fill: false, order: 2 },
    ];
    const axisCommon = {
      type: 'linear', min: -0.04, max: 1.04,
      afterBuildTicks: (s: any) => { s.ticks = rocTicks.map((v) => ({ value: v })); },
      grid: { drawOnChartArea: false, drawTicks: true, tickLength: 7, color: AXIS, lineWidth: 1 },
      border: { display: false },
    };
    const chart = new Chart(canvas, {
      type: 'line',
      data: { datasets },
      options: {
        responsive: false,
        animation: false,
        devicePixelRatio: 1,
        events: [],
        layout: { padding: { left: 0, top: 26, right: cfg.left + cfg.width - cfg.boxR, bottom: 0 } },
        plugins: {
          legend: { display: false },
          tooltip: { enabled: false },
          rocDecor: { title: cfg.title, dx: cfg.dx, textDx: cfg.textDx, dy: cfg.dy },
        } as any,
        scales: {
          x: {
            ...axisCommon,
            afterFit: (s: any) => { s.height = 61; },
            ticks: { autoSkip: false, maxRotation: 0, padding: 8, color: TEXT, font: { family: FONT, size: 12 }, callback: (v: any) => Number(v).toFixed(1) },
            title: { display: true, text: 'False positive rate', color: TEXT, font: { family: FONT, size: 12 }, padding: { top: 0, bottom: 3 } },
          },
          y: {
            ...axisCommon,
            afterFit: (s: any) => { s.width = cfg.boxL - cfg.left; },
            ticks: { autoSkip: false, minRotation: 90, maxRotation: 90, crossAlign: 'center', padding: 6, color: TEXT, font: { family: FONT, size: 12 }, callback: (v: any) => Number(v).toFixed(1) },
            title: { display: true, text: 'True positive rate', color: TEXT, font: { family: FONT, size: 12 }, padding: { top: cfg.titlePad, bottom: 0 } },
          },
        } as any,
      },
      plugins: [rocDecor],
    } as any);
    return () => chart.destroy();
  }, [which]);
  return <canvas ref={ref} width={cfg.width} height={height} style={{ position: 'absolute', left: cfg.left, top, width: cfg.width, height }} />;
}

const letterStyle = (x: number, y: number): React.CSSProperties => ({
  position: 'absolute', left: x, top: y, fontSize: 13, lineHeight: '14px', color: TEXT, fontFamily: FONT,
});

export default function App() {
  const panels = Array.from({ length: 18 }, (_, i) => i);
  return (
    <div style={{ position: 'absolute', left: 0, top: 0, width: 1203, height: 1417, background: '#fff', overflow: 'hidden', fontFamily: FONT }}>
      <div style={letterStyle(11, 3)}>a</div>
      <div style={letterStyle(11, 888)}>b</div>
      <div style={letterStyle(606, 888)}>c</div>
      {panels.map((i) => <ViolinPanel key={i} index={i} />)}
      <div style={{ position: 'absolute', left: 759, top: 697, fontSize: 12, lineHeight: '14.5px', color: TEXT, whiteSpace: 'nowrap' }}>
        {legendLeft.map((t) => <div key={t}>{t}</div>)}
      </div>
      <div style={{ position: 'absolute', left: 1000, top: 697, fontSize: 12, lineHeight: '14.5px', color: TEXT, whiteSpace: 'nowrap' }}>
        {legendRight.map((t) => <div key={t}>{t}</div>)}
      </div>
      <RocPanel which={0} />
      <RocPanel which={1} />
    </div>
  );
}
